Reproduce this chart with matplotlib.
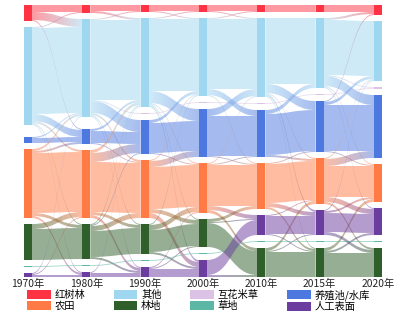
import matplotlib
matplotlib.use("Agg")
import matplotlib.pyplot as plt
import numpy as np
from matplotlib.colors import to_rgb
from matplotlib.patches import Patch, PathPatch
from matplotlib.path import Path

plt.rcParams["font.family"] = ["Noto Sans CJK SC", "DejaVu Sans"]

years = ["1970年", "1980年", "1990年", "2000年", "2010年", "2015年", "2020年"]
categories = ["红树林", "其他", "互花米草", "养殖池/水库", "农田", "林地", "草地", "人工表面"]
colors = ["#ff3344", "#9fd6f0", "#dcc3e6", "#4d78e0", "#ff7a45", "#2f5f2a", "#5cb8a4", "#6b3d9e"]

# stacking order of the classes, top to bottom
order_early = [0, 1, 2, 3, 4, 5, 6, 7]
order_late = [0, 1, 2, 3, 4, 7, 6, 5]
orders = [order_early] * 4 + [order_late] * 3

# area of each class per year (same order as categories)
area_1970 = [16, 98, 0, 6, 69, 36, 1, 4]
area_1980 = [8, 98, 0, 15, 68, 35, 1, 5]
area_1990 = [7, 89, 1, 34, 58, 30, 1, 10]
area_2000 = [7, 78, 1, 48, 50, 28, 1, 17]
area_2010 = [7, 79, 1, 47, 46, 29, 1, 20]
area_2015 = [7, 70, 1, 51, 46, 29, 1, 25]
area_2020 = [10, 60, 2, 63, 38, 29, 1, 27]
areas = [area_1970, area_1980, area_1990, area_2000, area_2010, area_2015, area_2020]

# transitions (from class, to class, area)
flows_1970_1980 = [
    (0, 0, 7), (0, 1, 8), (0, 3, 1),
    (1, 0, 1), (1, 1, 86), (1, 3, 7), (1, 4, 2), (1, 5, 1), (1, 7, 1),
    (3, 3, 5), (3, 1, 1),
    (4, 4, 60), (4, 1, 2), (4, 3, 2), (4, 5, 3), (4, 7, 2),
    (5, 5, 31), (5, 4, 5),
    (6, 6, 1),
    (7, 7, 2), (7, 1, 1), (7, 4, 1),
]
flows_1980_1990 = [
    (0, 0, 6), (0, 1, 2),
    (1, 0, 1), (1, 1, 80), (1, 2, 1), (1, 3, 12), (1, 4, 2), (1, 5, 1), (1, 7, 1),
    (3, 3, 12), (3, 1, 2), (3, 4, 1),
    (4, 4, 50), (4, 3, 9), (4, 1, 3), (4, 5, 3), (4, 7, 3),
    (5, 5, 26), (5, 4, 5), (5, 3, 1), (5, 7, 2), (5, 1, 1),
    (6, 6, 1),
    (7, 7, 4), (7, 1, 1),
]
flows_1990_2000 = [
    (0, 0, 6), (0, 1, 1),
    (1, 0, 1), (1, 1, 72), (1, 3, 12), (1, 4, 1), (1, 5, 1), (1, 7, 2),
    (2, 2, 1),
    (3, 3, 30), (3, 1, 3), (3, 4, 1),
    (4, 4, 42), (4, 3, 6), (4, 5, 4), (4, 7, 5), (4, 1, 1),
    (5, 5, 22), (5, 4, 5), (5, 7, 2), (5, 1, 1),
    (6, 6, 1),
    (7, 7, 8), (7, 5, 1), (7, 4, 1),
]
flows_2000_2010 = [
    (0, 0, 6), (0, 1, 1),
    (1, 1, 70), (1, 3, 6), (1, 0, 1), (1, 4, 1),
    (2, 2, 1),
    (3, 3, 40), (3, 1, 7), (3, 4, 1),
    (4, 4, 41), (4, 7, 4), (4, 5, 3), (4, 3, 1), (4, 1, 1),
    (5, 5, 24), (5, 4, 3), (5, 7, 1),
    (6, 6, 1),
    (7, 7, 15), (7, 5, 2),
]
flows_2010_2015 = [
    (0, 0, 7),
    (1, 1, 66), (1, 3, 9), (1, 7, 2), (1, 4, 1), (1, 5, 1),
    (2, 2, 1),
    (3, 3, 41), (3, 1, 4), (3, 4, 2),
    (4, 4, 39), (4, 7, 4), (4, 3, 1), (4, 5, 2),
    (5, 5, 25), (5, 4, 3), (5, 7, 1),
    (6, 6, 1),
    (7, 7, 18), (7, 4, 1), (7, 5, 1),
]
flows_2015_2020 = [
    (0, 0, 7),
    (1, 1, 55), (1, 3, 10), (1, 0, 2), (1, 2, 1), (1, 7, 1), (1, 4, 1),
    (2, 2, 1),
    (3, 3, 46), (3, 1, 3), (3, 4, 1), (3, 0, 1),
    (4, 4, 31), (4, 3, 7), (4, 7, 5), (4, 5, 2), (4, 1, 1),
    (5, 5, 24), (5, 4, 3), (5, 7, 2),
    (6, 6, 1),
    (7, 7, 19), (7, 4, 2), (7, 5, 3), (7, 1, 1),
]
periods = [flows_1970_1980, flows_1980_1990, flows_1990_2000,
           flows_2000_2010, flows_2010_2015, flows_2015_2020]

legend_order = [0, 4, 1, 5, 2, 6, 3, 7]

W, H = 401, 315
PX = 350 / 6          # pixels per column step
TOP, GAP = 5, 6
NODE_W = 8 / PX
LINK_ALPHA = 0.5


def node_tops(values, order):
    tops = {}
    y = TOP
    for c in order:
        tops[c] = y
        y += values[c] + GAP
    return tops


def draw_link(ax, x0, x1, y0a, y0b, y1a, y1b, c0, c1):
    xm = (x0 + x1) / 2
    verts = [(x0, y0a), (xm, y0a), (xm, y1a), (x1, y1a),
             (x1, y1b), (xm, y1b), (xm, y0b), (x0, y0b), (x0, y0a)]
    codes = [Path.MOVETO, Path.CURVE4, Path.CURVE4, Path.CURVE4,
             Path.LINETO, Path.CURVE4, Path.CURVE4, Path.CURVE4, Path.CLOSEPOLY]
    path = Path(verts, codes)
    if c0 == c1:
        ax.add_patch(PathPatch(path, fc=c0, ec="none", alpha=LINK_ALPHA, zorder=1))
        return
    patch = PathPatch(path, fc="none", ec="none")
    ax.add_patch(patch)
    t = np.linspace(0, 1, 64)[:, None]
    ramp = (1 - t) * np.array(to_rgb(c0)) + t * np.array(to_rgb(c1))
    img = ax.imshow(ramp[None, :, :], extent=(x0, x1, max(y0b, y1b), min(y0a, y1a)),
                    aspect="auto", alpha=LINK_ALPHA, interpolation="bilinear", zorder=1)
    img.set_clip_path(patch)


fig = plt.figure(figsize=(W / 100, H / 100), dpi=100)
ax = fig.add_axes([0, 0, 1, 1])

tops = [node_tops(areas[k], orders[k]) for k in range(len(years))]

for k, flows in enumerate(periods):
    src_tops, dst_tops = tops[k], tops[k + 1]
    out_off = dict(src_tops)
    in_off = dict(dst_tops)
    # outgoing stacked by target position, incoming by source position
    out_sorted = sorted(flows, key=lambda f: (src_tops[f[0]], dst_tops[f[1]]))
    y_out = {}
    for f in out_sorted:
        y_out[f] = out_off[f[0]]
        out_off[f[0]] += f[2]
    in_sorted = sorted(flows, key=lambda f: (dst_tops[f[1]], src_tops[f[0]]))
    y_in = {}
    for f in in_sorted:
        y_in[f] = in_off[f[1]]
        in_off[f[1]] += f[2]
    for f in flows:
        s, d, v = f
        draw_link(ax, k + NODE_W / 2, k + 1 - NODE_W / 2,
                  y_out[f], y_out[f] + v, y_in[f], y_in[f] + v,
                  colors[s], colors[d])

for k in range(len(years)):
    for c in orders[k]:
        v = areas[k][c]
        if v <= 0:
            continue
        ax.bar(k, v, bottom=tops[k][c], width=NODE_W, color=colors[c],
               linewidth=0, zorder=3)
    ax.text(k, 284, years[k], ha="center", va="center", fontsize=7.4, color="#222222")

ax.set_xlim(-28 / PX, (W - 28) / PX)
ax.set_ylim(H, 0)
ax.axis("off")

handles = [Patch(fc=colors[c], ec="none") for c in legend_order]
labels = [categories[c] for c in legend_order]
fig.legend(handles, labels, ncol=4, loc="upper left",
           bbox_to_anchor=(27 / W, 1 - 289 / H), frameon=False, fontsize=7.4,
           handlelength=2.3, handleheight=0.95, handletextpad=0.35,
           columnspacing=2.8, labelspacing=0.12, borderpad=0, borderaxespad=0)

fig.savefig("out.png", dpi=100)
